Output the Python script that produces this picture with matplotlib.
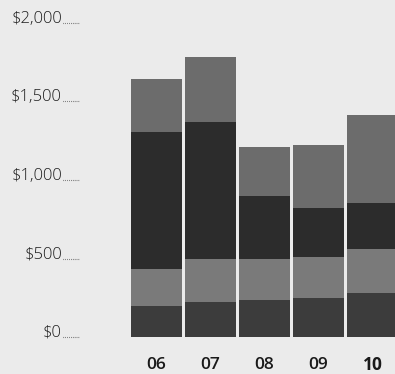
import matplotlib.pyplot as plt
import numpy as np

# years shown on the x axis
years = ["06", "07", "08", "09", "10"]

# stacked segments, bottom to top (dollars)
seg1 = [197, 223, 236, 248, 280]
seg2 = [236, 274, 261, 262, 281]
seg3 = [873, 872, 401, 312, 293]
seg4 = [337, 414, 312, 401, 560]

y_ticks = [0, 500, 1000, 1500, 2000]
y_labels = ["$0", "$500", "$1,000", "$1,500", "$2,000"]

colors = ["#3c3c3c", "#7a7a7a", "#2c2c2c", "#6c6c6c"]
bg = "#ebebeb"

fig = plt.figure(figsize=(3.95, 3.74), dpi=100, facecolor=bg)
ax = fig.add_axes([0, 0, 1, 1], facecolor=bg)

x = np.arange(len(years))
bottom = np.zeros(len(years))
for seg, c in zip([seg1, seg2, seg3, seg4], colors):
    ax.bar(x, seg, width=51 / 54, bottom=bottom, color=c, edgecolor="none")
    bottom += np.array(seg)

# pixel layout: first bar centred at 156.5 px, 54 px per bar; $0 at y=337, $2,000 at y=23
ax.set_xlim(-156.5 / 54, (395 - 156.5) / 54)
ppd = (337 - 23) / 2000
ax.set_ylim(-(374 - 337) / ppd, 337 / ppd)
ax.axis("off")

trans = ax.get_yaxis_transform()
for v, lab in zip(y_ticks, y_labels):
    ax.text(62 / 395, v, lab, transform=trans, ha="right", va="baseline",
            fontsize=12, family="Open Sans", fontweight="light", color="#1e1e1e")
    ax.plot([63 / 395, 80 / 395], [v, v], transform=trans, color="#333333",
            linestyle=(0, (0.5, 1.2)), linewidth=0.8)

for i, yr in enumerate(years):
    ax.text(i, -28 / ppd, yr, ha="center", va="center", fontsize=12.5,
            family="Open Sans", fontweight="bold" if yr == "10" else "semibold",
            color="#1a1a1a")

fig.savefig("out.png", dpi=100, facecolor=bg)
